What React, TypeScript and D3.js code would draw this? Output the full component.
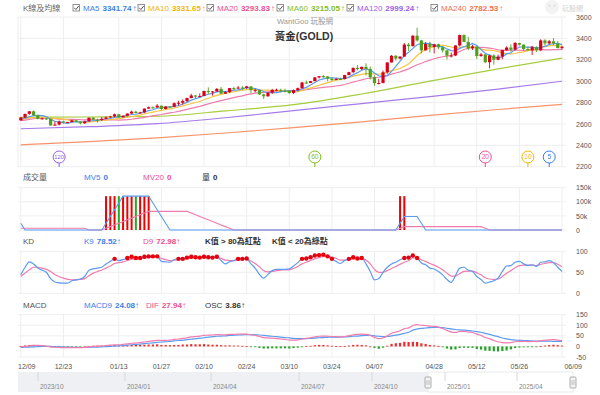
import * as d3 from "d3";

// ---- data (gold daily candles, 2024/12/09 - 2025/06/09) ----
const tickIdx = [0, 10, 23, 33, 43, 53, 63, 73, 83, 97, 107, 117, 127];
const tickLabels = ["12/09", "12/23", "01/13", "01/27", "02/10", "02/24", "03/10", "03/24", "04/07", "04/28", "05/12", "05/26", "06/09"];

const opens = [2633, 2660, 2694, 2718, 2680, 2648, 2652, 2646, 2586, 2594, 2622, 2612, 2617, 2634, 2621, 2606, 2624, 2658, 2640, 2636, 2648, 2661, 2670, 2690, 2662, 2677, 2697, 2715, 2702, 2708, 2743, 2756, 2754, 2771, 2740, 2763, 2760, 2794, 2798, 2814, 2842, 2866, 2856, 2861, 2908, 2898, 2904, 2928, 2883, 2898, 2935, 2933, 2940, 2936, 2951, 2915, 2916, 2876, 2858, 2893, 2918, 2920, 2911, 2910, 2889, 2916, 2934, 2988, 2984, 3000, 3035, 3047, 3044, 3023, 3011, 3020, 3019, 3057, 3084, 3124, 3113, 3134, 3114, 3037, 2982, 2983, 3083, 3175, 3237, 3211, 3230, 3342, 3327, 3425, 3381, 3288, 3349, 3319, 3345, 3317, 3288, 3239, 3240, 3334, 3431, 3367, 3306, 3325, 3235, 3250, 3177, 3240, 3200, 3230, 3290, 3314, 3295, 3357, 3342, 3301, 3288, 3318, 3289, 3381, 3353, 3373, 3352, 3310];
const highs = [2667, 2695, 2721, 2726, 2687, 2660, 2655, 2653, 2625, 2632, 2630, 2620, 2639, 2637, 2625, 2630, 2660, 2665, 2649, 2665, 2670, 2675, 2697, 2694, 2680, 2700, 2724, 2722, 2714, 2746, 2763, 2764, 2786, 2772, 2765, 2768, 2800, 2817, 2830, 2845, 2882, 2870, 2886, 2911, 2942, 2908, 2935, 2946, 2906, 2937, 2947, 2955, 2954, 2956, 2953, 2930, 2921, 2883, 2894, 2928, 2930, 2930, 2930, 2915, 2922, 2940, 2990, 3005, 3001, 3038, 3045, 3057, 3047, 3036, 3030, 3032, 3059, 3087, 3128, 3149, 3136, 3167, 3136, 3055, 3022, 3100, 3176, 3245, 3245, 3232, 3357, 3358, 3430, 3500, 3386, 3367, 3370, 3350, 3350, 3326, 3290, 3269, 3336, 3435, 3437, 3414, 3340, 3326, 3265, 3252, 3245, 3252, 3249, 3295, 3326, 3345, 3366, 3358, 3345, 3325, 3330, 3326, 3392, 3392, 3385, 3403, 3375, 3330];
const lows = [2630, 2655, 2686, 2677, 2643, 2642, 2636, 2583, 2583, 2585, 2602, 2610, 2615, 2615, 2596, 2600, 2622, 2635, 2614, 2628, 2645, 2656, 2663, 2656, 2660, 2670, 2694, 2699, 2696, 2700, 2741, 2742, 2750, 2730, 2735, 2749, 2755, 2772, 2780, 2805, 2840, 2834, 2853, 2860, 2880, 2864, 2900, 2880, 2880, 2890, 2913, 2925, 2919, 2928, 2890, 2895, 2871, 2833, 2856, 2880, 2906, 2896, 2894, 2880, 2880, 2906, 2931, 2975, 2982, 2999, 3025, 3028, 3000, 3001, 3009, 3012, 3016, 3055, 3076, 3100, 3105, 3054, 3015, 2957, 2970, 2979, 3070, 3174, 3193, 3205, 3229, 3283, 3325, 3370, 3260, 3286, 3268, 3260, 3300, 3268, 3202, 3221, 3234, 3323, 3365, 3290, 3292, 3207, 3228, 3168, 3120, 3154, 3196, 3204, 3285, 3277, 3287, 3332, 3286, 3285, 3245, 3271, 3280, 3333, 3344, 3338, 3306, 3293];
const closes = [2660, 2694, 2718, 2680, 2648, 2652, 2646, 2586, 2594, 2622, 2612, 2617, 2634, 2621, 2606, 2624, 2658, 2640, 2636, 2648, 2661, 2670, 2690, 2662, 2677, 2697, 2715, 2702, 2708, 2743, 2756, 2754, 2771, 2740, 2763, 2760, 2794, 2798, 2814, 2842, 2866, 2856, 2861, 2908, 2898, 2904, 2928, 2883, 2898, 2935, 2933, 2940, 2936, 2951, 2915, 2916, 2876, 2858, 2893, 2918, 2920, 2911, 2910, 2889, 2916, 2934, 2988, 2984, 3000, 3035, 3047, 3044, 3023, 3011, 3020, 3019, 3057, 3084, 3124, 3113, 3134, 3114, 3037, 2982, 2983, 3083, 3175, 3237, 3211, 3230, 3342, 3327, 3425, 3381, 3288, 3349, 3319, 3345, 3317, 3288, 3239, 3240, 3334, 3431, 3367, 3306, 3325, 3235, 3250, 3177, 3240, 3200, 3230, 3290, 3314, 3295, 3357, 3342, 3301, 3288, 3318, 3289, 3381, 3353, 3373, 3352, 3310, 3321];
// closes before the first visible candle (for MA5/10/20)
const priorCloses = [2598, 2573, 2565, 2563, 2612, 2631, 2650, 2670, 2715, 2623, 2633, 2637, 2640, 2650, 2640, 2643, 2650, 2632, 2633];

// long averages
const longIdx = [0, 16, 32, 48, 64, 80, 96, 112, 127];
const ma60 = [2662, 2665, 2672, 2722, 2780, 2880, 3000, 3115, 3215];
const ma120 = [2555, 2574, 2602, 2658, 2725, 2790, 2855, 2925, 2999];
const ma240 = [2405, 2435, 2470, 2515, 2565, 2620, 2680, 2735, 2783];

const volIdx = [20, 21, 22, 23, 24, 25, 26, 27, 28, 29, 30, 89, 90];
const volVals = [120000, 120000, 120000, 120000, 120000, 120000, 120000, 120000, 120000, 120000, 120000, 120000, 120000];
const priorVolumes = [0, 0, 0, 0, 0, 0, 0, 0, 0, 0, 0, 0, 0, 0, 0, 120000, 0, 0, 0];

const kVals = [44, 62, 75, 70, 60, 55, 50, 35, 27, 25, 24, 24, 30, 32, 34, 40, 55, 58, 60, 62, 70, 76, 82, 78, 80, 84, 87, 84, 84, 87, 88, 88, 88, 76, 75, 74, 80, 82, 82, 85, 87, 86, 85, 87, 86, 85, 87, 78, 70, 75, 78, 82, 82, 83, 70, 60, 45, 36, 45, 54, 57, 57, 57, 58, 65, 73, 82, 83, 86, 90, 91, 92, 88, 82, 76, 71, 78, 82, 86, 83, 84, 70, 52, 32, 35, 50, 62, 70, 74, 80, 84, 85, 90, 84, 72, 68, 60, 58, 52, 44, 33, 26, 42, 60, 62, 55, 52, 40, 33, 24, 27, 30, 36, 52, 65, 66, 74, 76, 70, 66, 68, 64, 74, 75, 78, 73, 62, 52];
const dVals = [40, 48, 56, 62, 62, 60, 57, 52, 45, 40, 36, 33, 32, 32, 33, 35, 42, 48, 52, 55, 60, 65, 71, 73, 75, 78, 81, 82, 83, 84, 85, 86, 87, 83, 80, 78, 79, 80, 81, 82, 84, 85, 85, 86, 86, 86, 86, 83, 79, 78, 78, 79, 80, 81, 77, 71, 63, 54, 51, 52, 54, 55, 56, 56, 59, 64, 70, 74, 78, 82, 85, 87, 88, 86, 83, 79, 79, 80, 82, 82, 83, 79, 70, 57, 50, 50, 54, 59, 64, 69, 74, 78, 84, 84, 80, 76, 71, 67, 62, 56, 48, 41, 41, 47, 52, 53, 53, 49, 44, 37, 34, 33, 34, 40, 48, 54, 61, 66, 67, 67, 67, 66, 69, 71, 73, 73, 69, 63];
const difVals = [-3, 0, 3, 5, 5, 4, 2, -2, -4, -5, -6, -6, -6, -6, -6, -5, -2, 0, 1, 2, 4, 6, 8, 8, 10, 12, 15, 16, 18, 21, 24, 26, 29, 28, 29, 30, 33, 35, 38, 41, 45, 47, 49, 52, 53, 54, 56, 55, 55, 57, 57, 58, 58, 58, 55, 52, 47, 42, 40, 39, 37, 35, 33, 30, 30, 31, 35, 38, 41, 45, 48, 49, 48, 47, 46, 45, 47, 50, 55, 57, 58, 57, 52, 43, 37, 40, 50, 62, 68, 74, 84, 88, 99, 103, 100, 99, 96, 95, 91, 85, 76, 68, 66, 71, 71, 68, 66, 58, 52, 42, 36, 28, 22, 18, 17, 18, 22, 24, 24, 23, 24, 23, 27, 29, 31, 32, 30, 28];
const macdVals = [-5, -4, -3, -2, -1, 0, 0, 0, -1, -2, -3, -3, -4, -4, -5, -5, -4, -3, -3, -2, -1, 0, 2, 3, 4, 6, 8, 9, 11, 13, 15, 17, 19, 21, 22, 24, 26, 28, 29, 32, 34, 37, 39, 41, 44, 46, 48, 49, 50, 52, 53, 54, 55, 56, 56, 55, 54, 52, 50, 48, 46, 44, 42, 40, 38, 37, 37, 37, 38, 39, 41, 42, 43, 44, 44, 44, 45, 46, 48, 49, 51, 52, 52, 50, 48, 46, 47, 50, 53, 57, 62, 67, 77, 82, 85, 87, 89, 90, 90, 89, 86, 83, 80, 78, 77, 75, 73, 70, 67, 62, 57, 51, 46, 40, 36, 32, 30, 29, 28, 27, 26, 25, 25, 25, 25, 24, 24, 24];

const maNames = ["MA5", "MA10", "MA20", "MA60", "MA120", "MA240"];
const maLegendVals = ["3341.74", "3331.65", "3293.83", "3215.05", "2999.24", "2782.53"];
const markerPeriods = [120, 60, 20, 10, 5];

const priceTicks = [3600, 3400, 3200, 3000, 2800, 2600, 2400, 2200];
const volTicks = [150000, 100000, 50000, 0];
const kdTicks = [100, 50, 0];
const macdTicks = [150, 100, 50, 0, -50];
const navLabels = ["2023/10", "2024/01", "2024/04", "2024/07", "2024/10", "2025/01", "2025/04"];
const navPos = [38, 125, 211, 299, 372, 445, 517];

// ---- styles ----
const FONT = "'Liberation Sans', 'Noto Sans CJK TC', sans-serif";
const FS = 8;
const RED = "#d9001b";
const GREEN = "#4ea11a";
const maColors = ["#3d7eea", "#f5b400", "#ec4f8e", "#84bd1c", "#9b5de5", "#f2704a"];
const lineColors = ["#5a9cf0", "#f9c440", "#f07cae", "#a6cd3c", "#a77be8", "#f7946a"];
const GRID = "#eeeeee";

const N = closes.length;
const left = 18;
const right = 566;

const x = d3.scaleLinear().domain([0, N - 1]).range([20.8, 562]);
const yP = d3.scaleLinear().domain([2200, 3600]).range([166.7, 17]);
const yV = d3.scaleLinear().domain([0, 150000]).range([230, 187.7]);
const yK = d3.scaleLinear().domain([0, 100]).range([293.3, 251.3]);
const yM = d3.scaleLinear().domain([-50, 150]).range([357, 314.7]);

function movingAvg(prior: number[], vals: number[], n: number) {
  const all = [...prior, ...vals];
  const off = prior.length;
  return vals.map((_, i) => {
    const slice = all.slice(Math.max(0, off + i - n + 1), off + i + 1);
    return d3.mean(slice) as number;
  });
}

const volumes = closes.map((_, i) => {
  const j = volIdx.indexOf(i);
  return j >= 0 ? volVals[j] : 0;
});

const ma5 = movingAvg(priorCloses, closes, 5);
const ma10 = movingAvg(priorCloses, closes, 10);
const ma20 = movingAvg(priorCloses, closes, 20);
const mv5 = movingAvg(priorVolumes, volumes, 5);
const mv20 = movingAvg(priorVolumes, volumes, 20);

const App = () => {
  const lineIdx = d3.line<number>().x((_, i) => x(i));
  const pLine = (arr: number[]) => lineIdx.y((d) => yP(d))(arr) || "";
  const smooth = (idx: number[], vals: number[]) =>
    d3.line<number>().x((_, i) => x(idx[i])).y((d) => yP(d)).curve(d3.curveMonotoneX)(vals) || "";
  const vLine = (arr: number[]) => d3.line<number>().x((_, i) => x(i)).y((d) => yV(d))(arr) || "";
  const kLine = (arr: number[]) =>
    d3.line<number>().x((_, i) => x(i)).y((d) => yK(d)).curve(d3.curveMonotoneX)(arr) || "";
  const mLine = (arr: number[]) =>
    d3.line<number>().x((_, i) => x(i)).y((d) => yM(d)).curve(d3.curveMonotoneX)(arr) || "";

  const vGrid = (y0: number, y1: number) =>
    tickIdx.map((t, i) => <line key={"g" + i} x1={x(t)} x2={x(t)} y1={y0} y2={y1} stroke={GRID} />);

  const axisText = (y: number, label: string, key: string) => (
    <text key={key} x={576} y={y + 2.6} fontSize={7} fill="#555">{label}</text>
  );

  const header = (y: number, items: { t: string; v?: string; c: string; x: number; bold?: boolean }[]) =>
    items.map((it, i) => (
      <text key={i} x={it.x} y={y} fontSize={FS} fill={it.c} fontWeight={it.bold ? "bold" : "normal"}>
        {it.t}
        {it.v !== undefined && <tspan fontWeight="bold" dx={3}>{it.v}</tspan>}
      </text>
    ));

  const legendX = [73, 138, 207, 277, 347, 431];

  return (
    <svg width={600} height={395} style={{ position: "absolute", left: 0, top: 0, fontFamily: FONT }}>
      <rect width={600} height={395} fill="#fff" />

      {/* top legend */}
      <text x={23} y={11} fontSize={FS} fill="#666">K線及均線</text>
      {maNames.map((n, i) => (
        <g key={n}>
          <rect x={legendX[i]} y={4.5} width={6.5} height={6.5} fill="#fff" stroke="#777" strokeWidth={0.8} />
          <path d={`M${legendX[i] + 1.2},${7.8} l1.7,1.7 l2.8,-3.5`} fill="none" stroke="#444" strokeWidth={0.9} />
          <text x={legendX[i] + 10} y={11} fontSize={FS} fill={maColors[i]}>
            {n}
            <tspan fontWeight="bold" dx={3}>{maLegendVals[i]}</tspan>
            <tspan dx={1}>↑</tspan>
          </text>
        </g>
      ))}

      {/* watermark */}
      <circle cx={552} cy={7} r={7} fill="#f3f3f3" />
      <circle cx={549.5} cy={6} r={1.2} fill="#e2e2e2" />
      <circle cx={554.5} cy={6} r={1.2} fill="#e2e2e2" />
      <text x={562} y={11} fontSize={7} fill="#d2d2d2">玩股網</text>

      {/* main panel grid */}
      {priceTicks.map((t) => (
        <line key={t} x1={left} x2={right} y1={yP(t)} y2={yP(t)} stroke={GRID} />
      ))}
      {vGrid(yP(3600), yP(2200))}
      <line x1={left} x2={left} y1={yP(3600)} y2={yP(2200)} stroke={GRID} />
      {priceTicks.map((t) => axisText(yP(t), String(t), "p" + t))}

      <text x={305} y={24} fontSize={7.5} fill="#999" textAnchor="middle">WantGoo 玩股網</text>
      <text x={304} y={40} fontSize={10.5} fill="#333" fontWeight="bold" textAnchor="middle">黃金(GOLD)</text>

      {/* moving averages */}
      <path d={smooth(longIdx, ma240)} fill="none" stroke={lineColors[5]} strokeWidth={1.2} />
      <path d={smooth(longIdx, ma120)} fill="none" stroke={lineColors[4]} strokeWidth={1.2} />
      <path d={smooth(longIdx, ma60)} fill="none" stroke={lineColors[3]} strokeWidth={1.2} />
      <path d={pLine(ma20)} fill="none" stroke={lineColors[2]} strokeWidth={1.2} />
      <path d={pLine(ma10)} fill="none" stroke={lineColors[1]} strokeWidth={1.2} />
      <path d={pLine(ma5)} fill="none" stroke={lineColors[0]} strokeWidth={1.2} />

      {/* candles */}
      {closes.map((c, i) => {
        const o = opens[i];
        const col = c >= o ? RED : GREEN;
        const top = yP(Math.max(o, c));
        const h = Math.max(1, yP(Math.min(o, c)) - top);
        return (
          <g key={i}>
            <line x1={x(i)} x2={x(i)} y1={yP(highs[i])} y2={yP(lows[i])} stroke={col} strokeWidth={0.9} />
            <rect x={x(i) - 1.6} y={top} width={3.2} height={h} fill={col} />
          </g>
        );
      })}

      {/* MA period markers */}
      {markerPeriods.map((p) => {
        const ci = maNames.indexOf("MA" + p);
        const mx = x(N + 1 - p);
        return (
          <g key={p}>
            <line x1={mx} x2={mx} y1={163} y2={167} stroke={maColors[ci]} />
            <circle cx={mx} cy={157} r={6} fill="#fff" stroke={maColors[ci]} strokeWidth={1} />
            <text x={mx} y={159.3} fontSize={p >= 100 ? 5.8 : 6.5} fill={maColors[ci]} textAnchor="middle">{p}</text>
          </g>
        );
      })}

      {/* volume panel */}
      {header(180, [
        { t: "成交量", c: "#555", x: 23 },
        { t: "MV5", v: "0", c: maColors[0], x: 84 },
        { t: "MV20", v: "0", c: maColors[2], x: 143 },
        { t: "量", v: "0", c: "#333", x: 202 },
      ])}
      {volTicks.map((t) => (
        <line key={t} x1={left} x2={right} y1={yV(t)} y2={yV(t)} stroke={GRID} />
      ))}
      {vGrid(yV(150000), yV(0))}
      {volTicks.map((t) => axisText(yV(t), t === 0 ? "0" : t / 1000 + "k", "v" + t))}
      {volumes.map((v, i) =>
        v > 0 ? (
          <rect key={i} x={x(i) - 1} y={yV(v)} width={2} height={yV(0) - yV(v)} fill={closes[i] >= opens[i] ? "#f00000" : "#22aa22"} />
        ) : null
      )}
      <path d={vLine(mv20)} fill="none" stroke={lineColors[2]} strokeWidth={1.1} />
      <path d={vLine(mv5)} fill="none" stroke={lineColors[0]} strokeWidth={1.1} />

      {/* KD panel */}
      {header(244, [
        { t: "KD", c: "#555", x: 23 },
        { t: "K9", v: "78.52↑", c: maColors[0], x: 84 },
        { t: "D9", v: "72.98↑", c: maColors[2], x: 143 },
        { t: "K值 > 80為紅點", c: "#333", x: 205, bold: true },
        { t: "K值 < 20為綠點", c: "#333", x: 272, bold: true },
      ])}
      {kdTicks.map((t) => (
        <line key={t} x1={left} x2={right} y1={yK(t)} y2={yK(t)} stroke={GRID} />
      ))}
      {vGrid(yK(100), yK(0))}
      {kdTicks.map((t) => axisText(yK(t), String(t), "k" + t))}
      <path d={kLine(dVals)} fill="none" stroke={lineColors[2]} strokeWidth={1.2} />
      <path d={kLine(kVals)} fill="none" stroke={lineColors[0]} strokeWidth={1.2} />
      {kVals.map((k, i) =>
        k > 80 ? <circle key={i} cx={x(i)} cy={yK(k)} r={2.2} fill="#e8000b" /> : k < 20 ? <circle key={i} cx={x(i)} cy={yK(k)} r={2.2} fill={GREEN} /> : null
      )}

      {/* MACD panel */}
      {header(308, [
        { t: "MACD", c: "#555", x: 23 },
        { t: "MACD9", v: "24.08↑", c: maColors[0], x: 84 },
        { t: "DIF", v: "27.94↑", c: maColors[2], x: 146 },
        { t: "OSC", v: "3.86↑", c: "#333", x: 205 },
      ])}
      {macdTicks.map((t) => (
        <line key={t} x1={left} x2={right} y1={yM(t)} y2={yM(t)} stroke={GRID} />
      ))}
      {vGrid(yM(150), yM(-50))}
      {macdTicks.map((t) => axisText(yM(t), String(t), "m" + t))}
      {difVals.map((d, i) => {
        const osc = d - macdVals[i];
        const y0 = yM(0);
        const y1 = yM(osc);
        return (
          <rect key={i} x={x(i) - 1.1} y={Math.min(y0, y1)} width={2.2} height={Math.max(0.8, Math.abs(y1 - y0))} fill={osc >= 0 ? "#ee2a2a" : "#22a322"} />
        );
      })}
      <path d={mLine(macdVals)} fill="none" stroke={lineColors[0]} strokeWidth={1.2} />
      <path d={mLine(difVals)} fill="none" stroke={lineColors[2]} strokeWidth={1.2} />

      {/* date axis */}
      {tickIdx.map((t, i) => (
        <text
          key={t}
          x={i === 0 ? left : i === tickIdx.length - 1 ? 582 : x(t)}
          y={368.5}
          fontSize={7}
          fill="#555"
          textAnchor={i === 0 ? "start" : i === tickIdx.length - 1 ? "end" : "middle"}
        >
          {tickLabels[i]}
        </text>
      ))}

      {/* navigator */}
      <rect x={left} y={372} width={428 - left} height={20} fill="#eef0f3" />
      <rect x={428} y={372} width={573 - 428} height={20} fill="#fff" stroke="#e2e4e8" strokeWidth={0.8} />
      {navLabels.map((l, i) => (
        <g key={l}>
          <line x1={navPos[i]} x2={navPos[i]} y1={372} y2={381} stroke="#d6d8dc" />
          <text x={navPos[i] + 2} y={389} fontSize={6.5} fill="#888">{l}</text>
        </g>
      ))}
      {[428, 573].map((hx) => (
        <g key={hx}>
          <rect x={hx - 3} y={377} width={6} height={11} rx={1} fill="#f4f4f4" stroke="#999" strokeWidth={0.8} />
          <line x1={hx - 1} x2={hx - 1} y1={380} y2={385} stroke="#999" strokeWidth={0.6} />
          <line x1={hx + 1} x2={hx + 1} y1={380} y2={385} stroke="#999" strokeWidth={0.6} />
        </g>
      ))}
    </svg>
  );
};

export default App;
